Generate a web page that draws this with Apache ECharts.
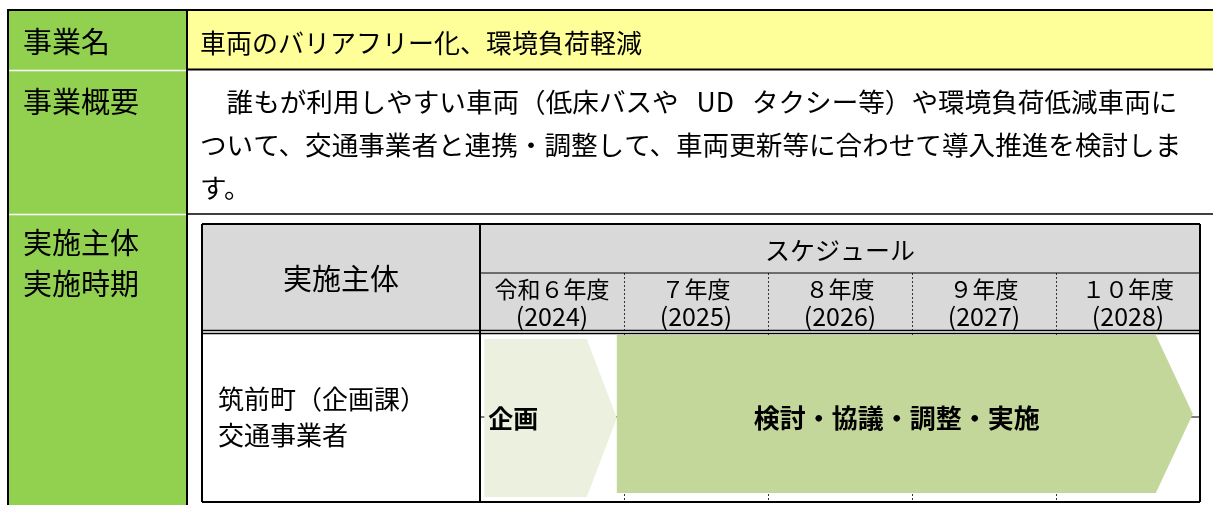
<!DOCTYPE html>
<html>
<head>
<meta charset="utf-8">
<script src="https://cdn.jsdelivr.net/npm/echarts@6/dist/echarts.min.js"></script>
<style>
html,body{margin:0;padding:0;background:#fff;}
#main{width:1213px;height:505px;}
</style>
</head>
<body>
<div id="main"></div>
<script>
// ---- data ----
const projectName = '車両のバリアフリー化、環境負荷軽減';
const summaryLines = [
  '　誰もが利用しやすい車両（低床バスや   UD   タクシー等）や環境負荷低減車両に',
  'ついて、交通事業者と連携・調整して、車両更新等に合わせて導入推進を検討しま',
  'す。'
];
const rowLabels = ['事業名', '事業概要', '実施主体', '実施時期'];
const actorHeader = '実施主体';
const scheduleHeader = 'スケジュール';
const fiscalYears = ['令和６年度', '７年度', '８年度', '９年度', '１０年度'];
const calendarYears = ['(2024)', '(2025)', '(2026)', '(2027)', '(2028)'];
const actors = ['筑前町（企画課）', '交通事業者'];
const phaseNames = ['企画', '検討・協議・調整・実施'];
const phaseStart = [2024.03, 2024.95];
const phaseEnd = [2024.95, 2028.95];

// ---- chart ----
const FONT = '"Noto Sans CJK JP", "Noto Sans", sans-serif';
const chart = echarts.init(document.getElementById('main'), null, {renderer: 'canvas'});

const phaseData = phaseNames.map((n, i) => [phaseStart[i], phaseEnd[i], n]);
const phaseColors = ['#EBF1DE', '#C4D79B'];
const phaseBand = [[0.03, 0.97], [0.054, 0.994]];
const phaseTip = [30, 37];
const dashStyle = {color: '#333', width: 1, type: [2, 2]};

function line(x1, y1, x2, y2, w, color, z) {
  return {type: 'line', shape: {x1, y1, x2, y2}, z: z || 10, silent: true,
    style: {stroke: color || '#000', lineWidth: w || 1}};
}
function rect(x, y, w, h, fill) {
  return {type: 'rect', shape: {x, y, width: w, height: h}, z: -5, silent: true,
    style: {fill: fill}};
}
function text(str, x, y, size, opts) {
  opts = opts || {};
  return {type: 'text', x, y, z: 10, silent: true,
    style: {text: str, font: (opts.bold ? 'bold ' : '') + size + 'px ' + FONT,
      fill: '#000', textAlign: opts.align || 'left', textVerticalAlign: 'middle'}};
}

const graphics = [
  // fills
  rect(9, 11, 177, 494, '#92D050'),
  rect(188, 11, 1025, 58, '#FFFF99'),
  rect(202, 224, 998, 107, '#D9D9D9'),
  // outer table lines
  line(7, 10, 1213, 10, 2),
  line(8, 10, 8, 505, 2),
  line(187, 10, 187, 505, 2),
  line(187, 69.5, 1213, 69.5, 2),
  line(187, 214, 1213, 214, 1.5),
  line(9, 70.5, 186, 70.5, 1.5, '#fff'),
  line(9, 214.5, 186, 214.5, 1.5, '#fff'),
  // inner table lines
  line(202, 224, 1200, 224, 2),
  line(202, 224, 202, 502, 2),
  line(1200, 224, 1200, 502, 2),
  line(202, 502, 1200, 502, 2),
  line(480, 224, 480, 502, 2),
  line(480, 273, 1200, 273, 1),
  line(202, 330.5, 1200, 330.5, 1.5),
  line(202, 333.5, 1200, 333.5, 1.5),
  line(481, 417, 1200, 417, 1, '#000', 3),
  // texts
  text(rowLabels[0], 23, 42, 29),
  text(rowLabels[1], 23, 102, 29),
  text(rowLabels[2], 23, 243, 29),
  text(rowLabels[3], 23, 284, 29),
  text(projectName, 200, 43, 26),
  text(summaryLines[0], 200, 102, 26.6),
  text(summaryLines[1], 200, 145, 26.6),
  text(summaryLines[2], 200, 188, 26.6),
  text(actorHeader, 341, 279, 29, {align: 'center'}),
  text(scheduleHeader, 840, 250, 25, {align: 'center'}),
  text(actors[0], 218, 399, 26),
  text(actors[1], 218, 435, 26)
];

const option = {
  backgroundColor: '#fff',
  animation: false,
  grid: [
    {left: 480, right: 13, top: 273, bottom: 174},
    {left: 480, right: 13, top: 334, bottom: 3}
  ],
  xAxis: [{
    gridIndex: 0,
    type: 'category',
    position: 'top',
    data: fiscalYears,
    boundaryGap: true,
    axisLine: {show: false},
    axisTick: {show: false},
    splitLine: {show: true, interval: 0, lineStyle: dashStyle},
    axisLabel: {
      inside: true, interval: 0, margin: 3,
      formatter: (v, i) => '{a|' + v + '}\n{b|' + calendarYears[i] + '}',
      rich: {
        a: {fontFamily: FONT, fontSize: 23, lineHeight: 27, color: '#000'},
        b: {fontFamily: FONT, fontSize: 25, lineHeight: 27, color: '#000'}
      }
    },
    z: 2
  }, {
    gridIndex: 1,
    type: 'category',
    data: fiscalYears,
    boundaryGap: true,
    axisLine: {show: false},
    axisTick: {show: false},
    axisLabel: {show: false},
    splitLine: {show: true, interval: 0, lineStyle: dashStyle},
    z: 2
  }, {
    gridIndex: 1, type: 'value', min: 2024, max: 2029, show: false
  }],
  yAxis: [
    {gridIndex: 0, type: 'value', min: 0, max: 1, show: false},
    {gridIndex: 1, type: 'value', min: 0, max: 1, show: false}
  ],
  graphic: {elements: graphics},
  series: [{
    type: 'custom',
    xAxisIndex: 2,
    yAxisIndex: 1,
    z: 5,
    data: phaseData,
    encode: {x: [0, 1]},
    renderItem: function (params, api) {
      const i = params.dataIndex;
      const x0 = api.coord([api.value(0), 0])[0];
      const x1 = api.coord([api.value(1), 0])[0];
      const yB = api.coord([2024, phaseBand[i][0]])[1];
      const yT = api.coord([2024, phaseBand[i][1]])[1];
      const yM = (yT + yB) / 2;
      const tip = phaseTip[i];
      const yText = api.coord([2024, 0.5])[1];
      const name = phaseNames[i];
      const tx = i === 0 ? x0 + 4 : (x0 + x1) / 2 - 8;
      return {
        type: 'group',
        children: [{
          type: 'polygon',
          shape: {points: [[x0, yT], [x1 - tip, yT], [x1, yM], [x1 - tip, yB], [x0, yB]]},
          style: {fill: phaseColors[i], stroke: null}
        }, {
          type: 'text',
          x: tx, y: yText,
          style: {text: name, font: 'bold ' + (i === 0 ? 25 : 26) + 'px ' + FONT, fill: '#000',
            textAlign: i === 0 ? 'left' : 'center', textVerticalAlign: 'middle'}
        }]
      };
    }
  }]
};
chart.setOption(option);
</script>
</body>
</html>
